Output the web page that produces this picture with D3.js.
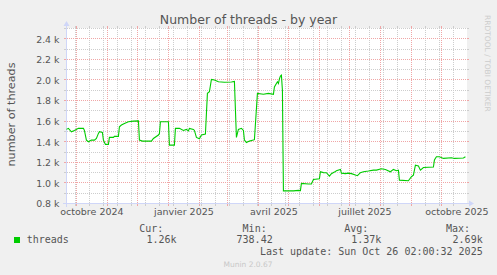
<!DOCTYPE html>
<html><head><meta charset="utf-8">
<script src="https://cdn.jsdelivr.net/npm/d3@7"></script>
<style>body{margin:0;background:#f0f0f0;} svg{display:block}</style>
</head><body>
<svg id="c" width="497" height="275"></svg>
<script>
// ---- data ----
const dates = ["2024-09-21","2024-09-23","2024-09-26","2024-09-29","2024-10-03","2024-10-08","2024-10-09","2024-10-11","2024-10-13","2024-10-16","2024-10-19","2024-10-21","2024-10-23","2024-10-24","2024-10-27","2024-10-28","2024-10-30","2024-11-02","2024-11-03","2024-11-07","2024-11-08","2024-11-12","2024-11-13","2024-11-15","2024-11-18","2024-11-22","2024-11-27","2024-12-02","2024-12-03","2024-12-06","2024-12-15","2024-12-17","2024-12-22","2024-12-23","2024-12-24","2025-01-01","2025-01-02","2025-01-07","2025-01-08","2025-01-12","2025-01-16","2025-01-19","2025-01-21","2025-01-22","2025-01-26","2025-01-27","2025-01-29","2025-02-01","2025-02-03","2025-02-07","2025-02-09","2025-02-11","2025-02-13","2025-02-16","2025-02-20","2025-02-26","2025-03-05","2025-03-08","2025-03-10","2025-03-12","2025-03-15","2025-03-17","2025-03-18","2025-03-20","2025-03-23","2025-03-28","2025-03-31","2025-04-06","2025-04-11","2025-04-16","2025-04-17","2025-04-19","2025-04-20","2025-04-21","2025-04-22","2025-04-23","2025-04-24","2025-04-25","2025-04-26","2025-05-06","2025-05-11","2025-05-13","2025-05-14","2025-05-21","2025-05-24","2025-05-26","2025-06-01","2025-06-02","2025-06-05","2025-06-08","2025-06-11","2025-06-13","2025-06-16","2025-06-18","2025-06-22","2025-06-23","2025-06-27","2025-06-30","2025-07-03","2025-07-07","2025-07-09","2025-07-12","2025-07-15","2025-07-20","2025-07-25","2025-07-28","2025-08-02","2025-08-06","2025-08-11","2025-08-14","2025-08-17","2025-08-19","2025-08-20","2025-08-29","2025-09-01","2025-09-03","2025-09-05","2025-09-08","2025-09-10","2025-09-13","2025-09-23","2025-09-24","2025-09-26","2025-09-29","2025-10-03","2025-10-11","2025-10-14","2025-10-23","2025-10-25"];
const threads = [1520,1530,1497,1510,1530,1530,1510,1416,1400,1416,1416,1432,1481,1497,1490,1416,1374,1374,1442,1442,1452,1452,1545,1562,1578,1594,1600,1603,1416,1406,1406,1432,1465,1480,1594,1594,1367,1367,1530,1530,1510,1520,1505,1530,1520,1510,1442,1429,1465,1475,1870,1885,2005,2000,1982,1978,1980,1985,1442,1520,1530,1510,1416,1393,1406,1420,1870,1862,1870,1860,1933,1966,1982,1966,2010,2038,2047,1900,923,923,927,925,995,990,990,1034,1040,1108,1100,1099,1066,1090,1105,1118,1131,1095,1090,1095,1090,1076,1070,1100,1108,1115,1124,1124,1137,1131,1108,1131,1118,1124,1027,1021,1060,1075,1173,1165,1124,1150,1155,1222,1254,1254,1238,1245,1238,1242,1254];
const yTicks = [800,1000,1200,1400,1600,1800,2000,2200,2400];
const yTickLabels = ["0.8 k","1.0 k","1.2 k","1.4 k","1.6 k","1.8 k","2.0 k","2.2 k","2.4 k"];
const xLabelMonths = ["2024-10-01","2025-01-01","2025-04-01","2025-07-01","2025-10-01"];
const xLabels = ["octobre 2024","janvier 2025","avril 2025","juillet 2025","octobre 2025"];
const statHeaders = ["Cur:","Min:","Avg:","Max:"];
const statValues = ["1.26k","738.42","1.37k","2.69k"];

// ---- setup ----
const parse = d3.utcParse("%Y-%m-%d");
const parseT = d3.utcParse("%Y-%m-%dT%H:%M");
const start = parseT("2024-09-21T02:00"), end = parseT("2025-10-26T02:00");
const X0 = 67, X1 = 467, Y0 = 203, Y1 = 28;
const x = d3.scaleUtc().domain([start, end]).range([X0 - 0.5, X1 - 0.5]);
const y = d3.scaleLinear().domain([800, 2500]).range([Y0 + 0.5, Y1 + 0.5]);
const px = v => Math.floor(v) + 0.5;
const svg = d3.select("#c");
const SANS = "DejaVu Sans", MONO = "DejaVu Sans Mono";
const GRID = "#cdcdcd", MGRID = "#f0a6a6", AXIS = "#CFD6F8", FONT = "#555";

svg.append("rect").attr("width", 497).attr("height", 275).attr("fill", "#f0f0f0");
svg.append("rect").attr("x", X0).attr("y", Y1).attr("width", X1 - X0).attr("height", Y0 - Y1).attr("fill", "#fff");

const g = svg.append("g").attr("shape-rendering", "crispEdges");
function hline(yy, col) {
  g.append("line").attr("x1", X0).attr("x2", X1).attr("y1", yy).attr("y2", yy)
    .attr("stroke", col).attr("stroke-dasharray", "1,1");
  g.append("line").attr("x1", X0 - 3).attr("x2", X0).attr("y1", yy).attr("y2", yy).attr("stroke", col);
  g.append("line").attr("x1", X1).attr("x2", X1 + 2).attr("y1", yy).attr("y2", yy).attr("stroke", col);
}
function vline(xx, col) {
  g.append("line").attr("x1", xx).attr("x2", xx).attr("y1", Y1).attr("y2", Y0)
    .attr("stroke", col).attr("stroke-dasharray", "1,1");
  g.append("line").attr("x1", xx).attr("x2", xx).attr("y1", Y1 - 2).attr("y2", Y1).attr("stroke", col);
  g.append("line").attr("x1", xx).attr("x2", xx).attr("y1", Y0).attr("y2", Y0 + 3).attr("stroke", col);
}
// minor horizontal grid
d3.range(900, 2501, 100).filter(v => v % 200 !== 0).forEach(v => hline(px(y(v)), GRID));
// minor vertical grid: every 2 weeks from Monday
const minorV = [];
for (let t = Date.UTC(2024, 8, 16); t <= +end; t += 14 * 86400000) if (t >= +start) minorV.push(new Date(t));
minorV.forEach(d => vline(px(x(d)), GRID));
// major grid
yTicks.forEach(v => hline(px(y(v)), MGRID));
d3.utcMonth.range(start, end).forEach(d => vline(px(x(d)), MGRID));

// axes lines
g.append("line").attr("x1", X0 - 4).attr("x2", X1 + 3).attr("y1", Y0 + 0.5).attr("y2", Y0 + 0.5).attr("stroke", AXIS);
g.append("line").attr("x1", X0 - 0.5).attr("x2", X0 - 0.5).attr("y1", Y0 + 4).attr("y2", Y1 - 3).attr("stroke", AXIS);

// data line
const data = dates.map((d, i) => ({ date: parse(d), v: threads[i] }));
svg.append("path").datum(data)
  .attr("d", d3.line().x(d => x(d.date)).y(d => y(d.v)))
  .attr("fill", "none").attr("stroke", "#00cc00").attr("stroke-width", 1.1);

// arrows
svg.append("path").attr("d", `M${X1 + 2},${Y0 + 0.5 - 3}L${X1 + 2},${Y0 + 0.5 + 3}L${X1 + 7},${Y0 + 0.5}Z`).attr("fill", AXIS);
svg.append("path").attr("d", `M${X0 - 0.5 - 3},${Y1 - 2}L${X0 - 0.5 + 3},${Y1 - 2}L${X0 - 0.5},${Y1 - 7}Z`).attr("fill", AXIS);

// axes labels
const ya = svg.append("g").attr("transform", `translate(${X0 - 0.5},0)`)
  .call(d3.axisLeft(y).tickValues(yTicks).tickFormat((d, i) => yTickLabels[i]).tickSize(0).tickPadding(7));
ya.select(".domain").remove();
ya.attr("font-family", SANS).attr("font-size", 9.4).style("color", FONT);
ya.selectAll("text").attr("dy", "0.35em");

const xTickDates = xLabelMonths.map(s => d3.utcDay.offset(parse(s), 15));
const xa = svg.append("g").attr("transform", `translate(0,${Y0 + 0.5})`)
  .call(d3.axisBottom(x).tickValues(xTickDates).tickFormat((d, i) => xLabels[i]).tickSize(0).tickPadding(4.8));
xa.select(".domain").remove();
xa.attr("font-family", SANS).attr("font-size", 9.5).style("color", FONT);

// title
svg.append("text").attr("x", 248.5).attr("y", 23.5).attr("text-anchor", "middle")
  .attr("font-family", SANS).attr("font-size", 12.5).attr("fill", FONT).text("Number of threads - by year");
// vertical label
svg.append("text").attr("transform", "translate(15,114.5) rotate(-90)").attr("text-anchor", "middle")
  .attr("font-family", SANS).attr("font-size", 11.2).attr("fill", FONT).text("number of threads");
// watermark right
svg.append("text").attr("transform", "translate(485,15) rotate(90)").attr("text-anchor", "start")
  .attr("font-family", SANS).attr("font-size", 7.5).attr("fill", "#cccccc").text("RRDTOOL / TOBI OETIKER");

// legend
svg.append("rect").attr("x", 14).attr("y", 237).attr("width", 6).attr("height", 6).attr("fill", "#00cc00");
const leg = svg.append("g").attr("font-family", MONO).attr("font-size", 10).attr("fill", FONT);
leg.append("text").attr("x", 26.7).attr("y", 243).text("threads");
const headEnd = [163.3, 266.7, 368.3, 470];
const valEnd = [176.5, 272.7, 381.3, 482.7];
statHeaders.forEach((h, i) => leg.append("text").attr("x", headEnd[i]).attr("y", 231.5).attr("text-anchor", "end").text(h));
statValues.forEach((v, i) => leg.append("text").attr("x", valEnd[i]).attr("y", 243).attr("text-anchor", "end").text(v));
leg.append("text").attr("x", 482.7).attr("y", 255).attr("text-anchor", "end").text("Last update: Sun Oct 26 02:00:32 2025");
svg.append("text").attr("x", 248).attr("y", 267).attr("text-anchor", "middle")
  .attr("font-family", SANS).attr("font-size", 7.5).attr("fill", "#c8c8c8").text("Munin 2.0.67");
</script>
</body></html>
